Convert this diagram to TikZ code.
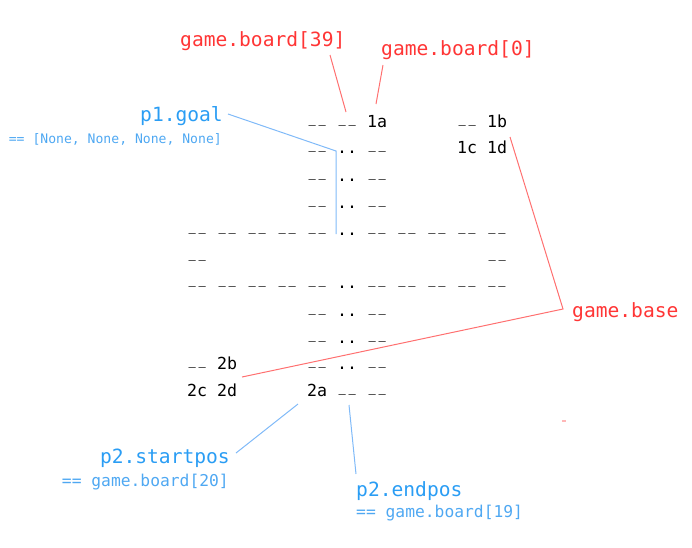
\documentclass[tikz,border=0pt]{standalone}
\usepackage{fontspec}
\usepackage{graphicx}
\setmonofont{DejaVu Sans Mono}
\definecolor{redtxt}{HTML}{FF3535}
\definecolor{redln}{HTML}{FF7070}
\definecolor{bluetxt}{HTML}{2A9DF4}
\definecolor{bluesub}{HTML}{4FA8F2}
\definecolor{blueln}{HTML}{80BAF8}
\newcommand\ubar{\makebox[0.602em]{\raisebox{4.5pt}{\scalebox{0.72}[1]{\_}}}}
\begin{document}
\begin{tikzpicture}[x=1pt,y=-1pt,
  board/.style={anchor=base west,inner sep=0pt,font=\ttfamily\fontsize{16.6}{20}\selectfont},
  redlab/.style={inner sep=0pt,text=redtxt,font=\ttfamily\fontsize{19.6}{22}\selectfont},
  bluelab/.style={inner sep=0pt,text=bluetxt,font=\ttfamily\fontsize{19.6}{22}\selectfont},
  bluesmall/.style={inner sep=0pt,text=bluesub,font=\ttfamily\fontsize{16.3}{19}\selectfont},
  bluetiny/.style={inner sep=0pt,text=bluesub,font=\ttfamily\fontsize{13.1}{16}\selectfont},
  redline/.style={draw=redln,line width=1pt},
  blueline/.style={draw=blueln,line width=1pt}]
\useasboundingbox (0,0) rectangle (692,547);
% board rows
\node[board] (r1a) at (307,127) {\ubar\ubar{} \ubar\ubar{} 1a};
\node[board] (r1b) at (457,127) {\ubar\ubar{} 1b};
\node[board] (r2a) at (307,153) {\ubar\ubar{} .. \ubar\ubar};
\node[board] (r2b) at (457,153) {1c 1d};
\node[board] (r3) at (307,181) {\ubar\ubar{} .. \ubar\ubar};
\node[board] (r4) at (307,208) {\ubar\ubar{} .. \ubar\ubar};
\node[board] (r5) at (187,235) {\ubar\ubar{} \ubar\ubar{} \ubar\ubar{} \ubar\ubar{} \ubar\ubar{} .. \ubar\ubar{} \ubar\ubar{} \ubar\ubar{} \ubar\ubar{} \ubar\ubar};
\node[board] (r6a) at (187,262) {\ubar\ubar};
\node[board] (r6b) at (487,262) {\ubar\ubar};
\node[board] (r7) at (187,288) {\ubar\ubar{} \ubar\ubar{} \ubar\ubar{} \ubar\ubar{} \ubar\ubar{} .. \ubar\ubar{} \ubar\ubar{} \ubar\ubar{} \ubar\ubar{} \ubar\ubar};
\node[board] (r8) at (307,316) {\ubar\ubar{} .. \ubar\ubar};
\node[board] (r9) at (307,343) {\ubar\ubar{} .. \ubar\ubar};
\node[board] (r10a) at (187,369) {\ubar\ubar{} 2b};
\node[board] (r10b) at (307,369) {\ubar\ubar{} .. \ubar\ubar};
\node[board] (r11a) at (187,396) {2c 2d};
\node[board] (r11b) at (307,396) {2a \ubar\ubar{} \ubar\ubar};
% labels
\node[redlab,anchor=base west] (b39) at (180,46) {game.board[39]};
\node[redlab,anchor=base west] (b0) at (381,55) {game.board[0]};
\node[bluelab,anchor=base east] (goal) at (223,121) {p1.goal};
\node[bluetiny,anchor=base east] (goalv) at (222,143) {== [None, None, None, None]};
\node[redlab,anchor=base west] (base) at (572,317) {game.base};
\node[bluelab,anchor=base east] (start) at (230,463) {p2.startpos};
\node[bluesmall,anchor=base east] (startv) at (229,486) {== game.board[20]};
\node[bluelab,anchor=base west] (endp) at (356,496) {p2.endpos};
\node[bluesmall,anchor=base west] (endv) at (356,517) {== game.board[19]};
% connector ends
\coordinate (c39a) at (330,55);
\coordinate (c39b) at (346,112);
\coordinate (c0a) at (383,65);
\coordinate (c0b) at (376,104);
\coordinate (cga) at (228,114);
\coordinate (cgb) at (336,151);
\coordinate (cgc) at (336,234);
\coordinate (cba) at (510,137);
\coordinate (cbb) at (563,309);
\coordinate (cbc) at (242,377);
\coordinate (csa) at (298,404);
\coordinate (csb) at (236,453);
\coordinate (cea) at (349,405);
\coordinate (ceb) at (356,474);
\draw[redline] (c39a) -- (c39b);
\draw[redline] (c0a) -- (c0b);
\draw[blueline] (cga) -- (cgb) -- (cgc);
\draw[redline] (cba) -- (cbb) -- (cbc);
\draw[blueline] (csa) -- (csb);
\draw[blueline] (cea) -- (ceb);
\coordinate (m1) at (562,421);
\coordinate (m2) at (566,421);
\draw[draw=redln!50,line width=1.2pt] (m1) -- (m2);
\end{tikzpicture}
\end{document}
